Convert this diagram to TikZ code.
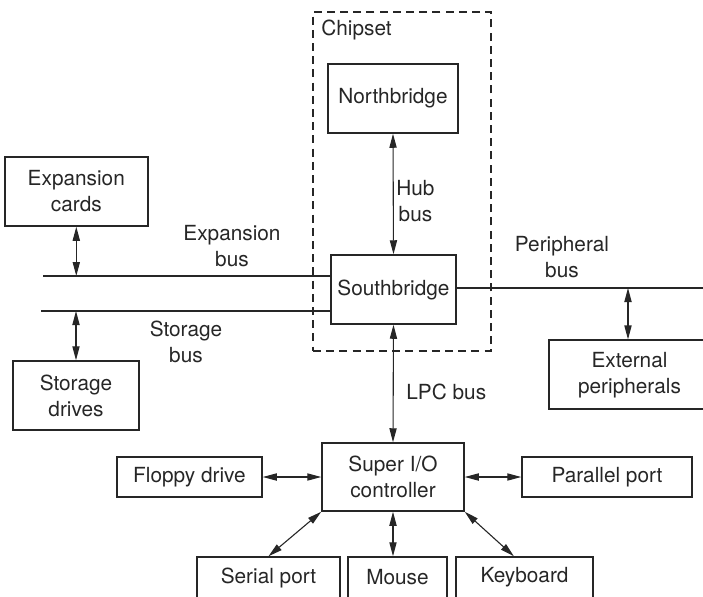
\documentclass[tikz,border=0pt]{standalone}
\usepackage{fontspec}
\setmainfont{TeX Gyre Heros}
\usetikzlibrary{arrows.meta,calc}

\tikzset{
  box/.style={draw=black!85, line width=0.75pt, align=center, inner sep=0pt},
  lbl/.style={align=center, inner sep=0pt},
  link/.style={draw=black!85, line width=0.55pt,
    {Triangle[length=7pt,width=3.6pt]}-{Triangle[length=7pt,width=3.6pt]}},
  busline/.style={draw=black!85, line width=1pt},
  group/.style={draw=black!85, line width=0.6pt, dash pattern=on 4pt off 2.6pt}
}

\begin{document}
\begin{tikzpicture}[x=0.5pt, y=-0.5pt, font=\fontsize{10.4}{13}\selectfont, text=black!85]
\useasboundingbox (0,0) rectangle (703,596);
\clip (0,0) rectangle (703,596);

% chipset group
\node[group, minimum width=89pt, minimum height=169.5pt] (chipset) at (402,181.5) {};
\node[lbl, anchor=base west] (chiplbl) at (321,35) {Chipset};

% bridges
\node[box, minimum width=65pt, minimum height=34.5pt] (north) at (393,98.5) {Northbridge};
\node[box, minimum width=62.5pt, minimum height=34.5pt] (south) at (393.5,289.5) {Southbridge};

% left side devices
\node[box, minimum width=71.5pt, minimum height=34.5pt] (expcards) at (76.3,191.5) {Expansion\\cards};
\node[box, minimum width=63pt, minimum height=34.5pt] (stordrv) at (76,395.5) {Storage\\drives};

% right side devices
\node[box, minimum width=80.5pt, minimum height=34.5pt] (extp) at (629.5,374.7) {External\\peripherals};

% super I/O and its devices
\node[box, minimum width=71pt, minimum height=34pt] (superio) at (393,477) {Super I/O\\controller};
\node[box, minimum width=72.5pt, minimum height=20pt] (floppy) at (189.5,477) {Floppy drive};
\node[box, minimum width=85pt, minimum height=20pt] (parallel) at (607,477) {Parallel port};
\node[box, minimum width=71.5pt, minimum height=20.5pt] (serial) at (268.5,577.5) {Serial port};
\node[box, minimum width=49.5pt, minimum height=20.5pt] (mouse) at (397.5,577.5) {Mouse};
\node[box, minimum width=68.5pt, minimum height=20.5pt] (keyboard) at (524.5,577.5) {Keyboard};

% buses
\coordinate (expbus) at (43,276);
\coordinate (storbus) at (41,311);
\coordinate (periphend) at (705,288);
\draw[busline] (expbus) -- (expbus -| south.west);
\draw[busline] (storbus) -- (storbus -| south.west);
\draw[busline] (south.east |- periphend) -- (periphend);

% bus labels
\node[lbl] (explbl) at (232,246.5) {Expansion\\bus};
\node[lbl] (storlbl) at (186,342) {Storage\\bus};
\node[lbl] (periphlbl) at (562,257) {Peripheral\\bus};
\node[lbl, anchor=west] (hublbl) at (396,201) {Hub\\bus};
\node[lbl, anchor=west] (lpclbl) at (406,392) {LPC bus};

% connections
\draw[link] (north.south) -- (south.north);
\draw[link] (expcards.south) -- (expcards.south |- expbus);
\draw[link] (storbus -| stordrv.north) -- (stordrv.north);
\coordinate (ptap) at (628,288);
\draw[link] (ptap) -- (ptap |- extp.north);
\draw[link] (south.south) -- (superio.north);
\draw[link] (floppy.east) -- (superio.west);
\draw[link] (superio.east) -- (parallel.west);
\draw[link] (superio.south west) -- (serial.north);
\draw[link] (superio.south) -- (superio.south |- mouse.north);
\draw[link] (superio.south east) -- ([xshift=-5.3pt]keyboard.north);
\end{tikzpicture}
\end{document}
